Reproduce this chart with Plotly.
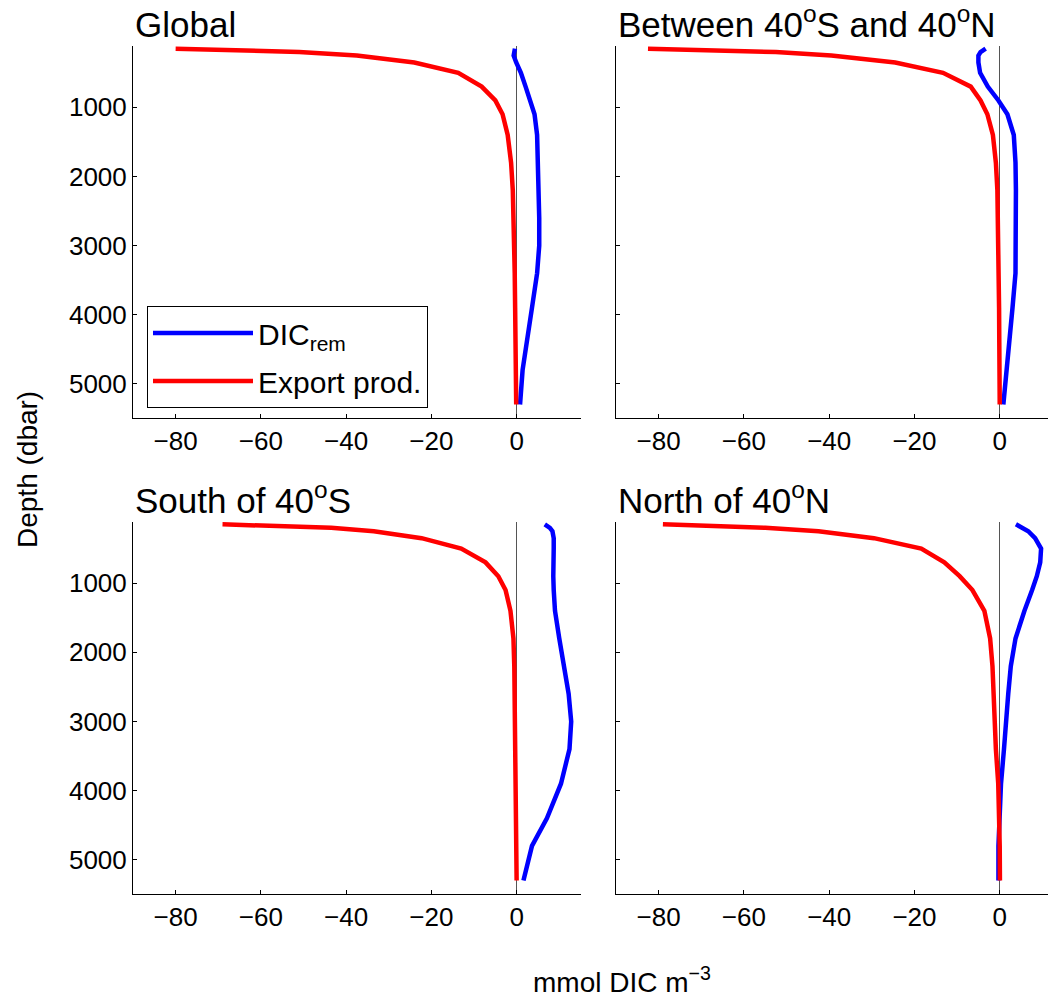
import plotly.graph_objects as go

# ---------------- data ----------------
depth = [150, 200, 250, 350, 500, 700, 900, 1100, 1400, 1800, 2200, 2600, 3000, 3400, 3900, 4400, 4800, 5300]

global_dic = [-0.4, -0.6, -0.7, -0.1, 1.0, 2.1, 3.1, 4.2, 4.8, 5.0, 5.2, 5.3, 5.3, 4.8, 3.6, 2.4, 1.4, 0.8]
global_exp = [-80, -51, -37.5, -24, -13.7, -8.2, -5.0, -3.3, -2.1, -1.3, -0.9, -0.7, -0.55, -0.45, -0.35, -0.25, -0.15, -0.1]

between_dic = [-3.3, -4.5, -5.0, -5.0, -4.6, -2.8, -0.3, 1.8, 3.3, 3.7, 3.8, 3.8, 3.8, 3.7, 3.0, 2.2, 1.5, 0.85]
between_exp = [-82.5, -52.5, -39.5, -24.5, -13.3, -6.8, -4.5, -2.9, -1.6, -0.9, -0.55, -0.4, -0.3, -0.2, -0.15, -0.1, -0.05, 0.0]

south_dic = [6.6, 7.8, 8.4, 8.7, 8.7, 8.6, 8.6, 8.7, 9.0, 10.0, 11.0, 12.2, 12.8, 12.4, 10.4, 7.1, 3.6, 1.6]
south_exp = [-69, -43.5, -33.5, -22.3, -13.0, -7.3, -4.3, -2.6, -1.45, -0.75, -0.55, -0.45, -0.35, -0.3, -0.2, -0.15, -0.1, 0.0]

north_dic = [3.8, 5.5, 6.7, 8.3, 9.7, 9.5, 8.7, 7.6, 5.8, 3.7, 2.6, 2.0, 1.6, 1.0, 0.3, -0.15, -0.3, -0.3]
north_exp = [-79, -55, -42.5, -29.5, -18.4, -13.0, -9.4, -6.4, -3.6, -2.25, -1.7, -1.45, -1.2, -0.9, -0.35, -0.1, 0.0, 0.05]

panel_titles = ["Global", "Between 40<sup>o</sup>S and 40<sup>o</sup>N",
                "South of 40<sup>o</sup>S", "North of 40<sup>o</sup>N"]
series_names = ["DIC<sub>rem</sub>", "Export prod."]
x_ticks = [-80, -60, -40, -20, 0]
y_ticks = [1000, 2000, 3000, 4000, 5000]
x_label = "mmol DIC m<sup>−3</sup>"
y_label = "Depth (dbar)"

# ---------------- layout helpers ----------------
# the page body has an 8px margin, so the figure is placed at (8, 8)
OFF = 8
W, H = 1048, 988
FONT = "Liberation Sans, Arial, Helvetica, sans-serif"

def px_x(p):
    return (p - OFF) / W

def px_y(p):
    return 1 - (p - OFF) / H

col_dom = [[px_x(133), px_x(581)], [px_x(616), 1.0]]
col_rng = [[-90, 15.1], [-90, 13.2]]
row_dom = [[px_y(418), px_y(46)], [px_y(894), px_y(521.7)]]
y_rng = [5495, 112]

panels = [(global_dic, global_exp), (between_dic, between_exp),
          (south_dic, south_exp), (north_dic, north_exp)]

fig = go.Figure()
annotations = []
for i, (dic, exp) in enumerate(panels):
    r, c = divmod(i, 2)
    k = "" if i == 0 else str(i + 1)
    fig.add_trace(go.Scatter(x=dic, y=depth, mode="lines", name=series_names[0],
                             legendgroup="dic", line=dict(color="#0000ff", width=4.5),
                             xaxis="x" + k, yaxis="y" + k, showlegend=(i == 0)))
    fig.add_trace(go.Scatter(x=exp, y=depth, mode="lines", name=series_names[1],
                             legendgroup="exp", line=dict(color="#ff0000", width=4.5),
                             xaxis="x" + k, yaxis="y" + k, showlegend=(i == 0)))
    common = dict(showline=True, linecolor="black", linewidth=1, mirror=False,
                  ticks="inside", ticklen=4, tickcolor="black", tickwidth=1,
                  showgrid=False, tickfont=dict(family=FONT, size=26, color="black"))
    fig.layout["xaxis" + k] = dict(domain=col_dom[c], range=col_rng[c], anchor="y" + k,
                                   tickvals=x_ticks, zeroline=True, zerolinecolor="#555555",
                                   zerolinewidth=1, **common)
    fig.layout["yaxis" + k] = dict(domain=row_dom[r], range=y_rng, anchor="x" + k,
                                   tickvals=y_ticks, showticklabels=(c == 0),
                                   zeroline=False, **common)
    annotations.append(dict(text=panel_titles[i], xref="paper", yref="paper",
                            x=col_dom[c][0], y=row_dom[r][1], xanchor="left", yanchor="bottom",
                            showarrow=False, font=dict(family=FONT, size=35, color="black")))

annotations.append(dict(text=y_label, xref="paper", yref="paper", x=px_x(27), y=px_y(470),
                        textangle=-90, showarrow=False, xanchor="center", yanchor="middle",
                        font=dict(family=FONT, size=28, color="black")))
annotations.append(dict(text=x_label, xref="paper", yref="paper", x=px_x(622), y=px_y(980),
                        showarrow=False, xanchor="center", yanchor="middle",
                        font=dict(family=FONT, size=28, color="black")))

fig.update_layout(
    width=W, height=H,
    margin=dict(l=0, r=0, t=0, b=0),
    paper_bgcolor="white", plot_bgcolor="white",
    font=dict(family=FONT, size=26, color="black"),
    annotations=annotations,
    legend=dict(x=px_x(147), y=px_y(306), xanchor="left", yanchor="top",
                bordercolor="black", borderwidth=1, bgcolor="white",
                traceorder="grouped", tracegroupgap=6,
                font=dict(family=FONT, size=30, color="black"), itemwidth=100),
)

fig.write_html("out.html")
